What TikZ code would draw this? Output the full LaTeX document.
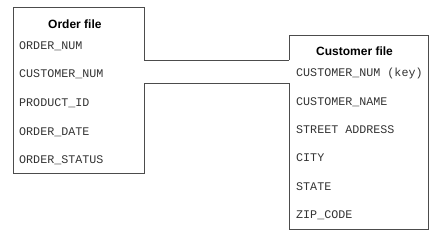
\documentclass[tikz,border=0pt]{standalone}
\usepackage{fontspec}
\setmainfont{Liberation Sans}
\setmonofont{Liberation Mono}
\begin{document}
\begin{tikzpicture}[x=1pt,y=-1pt,
  outline/.style={draw=black!70, line width=1pt},
  title/.style={anchor=base west, inner sep=0pt, font=\fontsize{12}{14}\selectfont\bfseries, text=black},
  field/.style={anchor=base west, inner sep=0pt, font=\fontsize{11.7}{14}\selectfont\ttfamily, text=black!80}]
\useasboundingbox (0,0) rectangle (443,236);
% corner coordinates
\coordinate (o-nw) at (13,7);
\coordinate (o-ne) at (144,7);
\coordinate (o-sw) at (13,173);
\coordinate (o-se) at (144,173);
\coordinate (o-j1) at (144,60);
\coordinate (o-j2) at (144,83);
\coordinate (c-nw) at (289,35);
\coordinate (c-ne) at (428,35);
\coordinate (c-sw) at (289,229);
\coordinate (c-se) at (428,229);
\coordinate (c-j1) at (289,60);
\coordinate (c-j2) at (289,83);
% box outlines
\draw[outline] (o-j1) -- (o-ne) -- (o-nw) -- (o-sw) -- (o-se) -- (o-j2);
\draw[outline] (c-j1) -- (c-nw) -- (c-ne) -- (c-se) -- (c-sw) -- (c-j2);
% connectors
\draw[outline] (o-j1) -- (c-j1);
\draw[outline] (o-j2) -- (c-j2);
% order file
\node[title] (otitle) at (48,28) {Order file};
\node[field] (o1) at (19,49) {ORDER\_NUM};
\node[field] (o2) at (19,77.7) {CUSTOMER\_NUM};
\node[field] (o3) at (19,106.4) {PRODUCT\_ID};
\node[field] (o4) at (19,135.1) {ORDER\_DATE};
\node[field] (o5) at (19,163.8) {ORDER\_STATUS};
% customer file
\node[title] (ctitle) at (316,55.7) {Customer file};
\node[field] (c1) at (296,76.7) {CUSTOMER\_NUM (key)};
\node[field] (c2) at (296,105) {CUSTOMER\_NAME};
\node[field] (c3) at (296,133.5) {STREET ADDRESS};
\node[field] (c4) at (296,161.8) {CITY};
\node[field] (c5) at (296,190) {STATE};
\node[field] (c6) at (296,218.3) {ZIP\_CODE};
\end{tikzpicture}
\end{document}
